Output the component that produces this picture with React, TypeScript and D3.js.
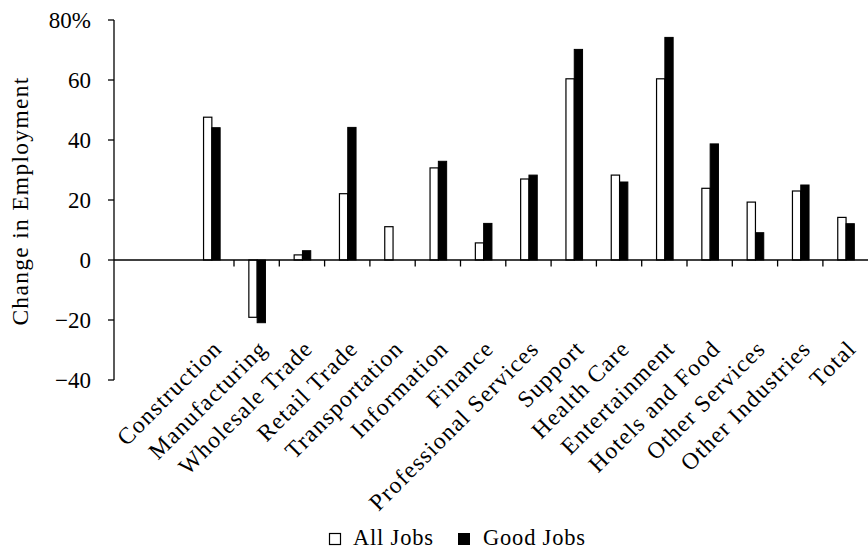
import React from "react";
import * as d3 from "d3";

const categories = [
  "Construction",
  "Manufacturing",
  "Wholesale Trade",
  "Retail Trade",
  "Transportation",
  "Information",
  "Finance",
  "Professional Services",
  "Support",
  "Health Care",
  "Entertainment",
  "Hotels and Food",
  "Other Services",
  "Other Industries",
  "Total",
];
const allJobs = [47.6, -19.1, 1.7, 22.1, 11.1, 30.7, 5.7, 27, 60.4, 28.3, 60.4, 23.9, 19.3, 23, 14.2];
const goodJobs = [44.1, -20.9, 3.1, 44.2, 0, 32.9, 12.2, 28.3, 70.2, 26, 74.2, 38.7, 9.1, 25, 12.1];
const yTicks = [-40, -20, 0, 20, 40, 60, 80];
const seriesNames = ["All Jobs", "Good Jobs"];

const FONT = "'Palatino Linotype', 'Book Antiqua', Palatino, 'Liberation Serif', serif";

export default function App() {
  const W = 868;
  const H = 552;
  const axisX = 114;
  const x = d3.scaleBand<string>().domain(categories).range([188.7, 868.2]).padding(0);
  const y = d3.scaleLinear().domain([-40, 80]).range([380, 20]);
  const bw = 8.3;
  const fs = 23.5;
  const ls = 1.3;

  return (
    <svg width={W} height={H} style={{ position: "absolute", left: 0, top: 0, background: "#fff" }} fontFamily={FONT}>
      {/* y axis */}
      <line x1={axisX} x2={axisX} y1={y(80)} y2={y(-40)} stroke="#000" strokeWidth={1.3} />
      {yTicks.map((t) => (
        <g key={t}>
          <line x1={axisX - 6} x2={axisX} y1={y(t)} y2={y(t)} stroke="#000" strokeWidth={1.3} />
          <text x={91} y={y(t)} dy="0.35em" textAnchor="end" fontSize={23} fill="#000">
            {t < 0 ? "\u2212" + Math.abs(t) : t}
            {t === 80 ? "%" : ""}
          </text>
        </g>
      ))}
      <text
        transform={`translate(28,${201}) rotate(-90)`}
        textAnchor="middle"
        fontSize={fs}
        letterSpacing={ls}
        fill="#000"
      >
        Change in Employment
      </text>

      {/* bars */}
      {categories.map((c, i) => {
        const cx = (x(c) as number) + x.bandwidth() / 2 + 0.5;
        const a = allJobs[i];
        const g = goodJobs[i];
        return (
          <g key={c}>
            {a !== 0 && (
              <rect
                x={cx - bw}
                y={Math.min(y(a), y(0))}
                width={bw}
                height={Math.abs(y(a) - y(0))}
                fill="#fff"
                stroke="#000"
                strokeWidth={1.2}
              />
            )}
            {g !== 0 && (
              <rect
                x={cx}
                y={Math.min(y(g), y(0))}
                width={bw}
                height={Math.abs(y(g) - y(0))}
                fill="#000"
                stroke="#000"
                strokeWidth={1}
              />
            )}
          </g>
        );
      })}

      {/* zero line */}
      <line x1={axisX} x2={W} y1={y(0)} y2={y(0)} stroke="#000" strokeWidth={1.3} />
      {categories.slice(1).map((c) => (
        <line
          key={"t" + c}
          x1={x(c) as number}
          x2={x(c) as number}
          y1={y(0)}
          y2={y(0) + 6.5}
          stroke="#000"
          strokeWidth={1.3}
        />
      ))}

      {/* category labels */}
      {categories.map((c) => {
        const cx = (x(c) as number) + x.bandwidth() / 2;
        return (
          <text
            key={"l" + c}
            transform={`translate(${cx + 12},${350}) rotate(-45)`}
            textAnchor="end"
            fontSize={fs}
            letterSpacing={ls}
            fill="#000"
          >
            {c}
          </text>
        );
      })}

      {/* legend */}
      <rect x={329.5} y={533.5} width={11} height={11} fill="#fff" stroke="#000" strokeWidth={1.2} />
      <text x={353} y={545} fontSize={22.5} letterSpacing={0.8} fill="#000">
        {seriesNames[0]}
      </text>
      <rect x={458} y={533} width={12} height={12} fill="#000" />
      <text x={483} y={545} fontSize={22.5} letterSpacing={0.8} fill="#000">
        {seriesNames[1]}
      </text>
    </svg>
  );
}
